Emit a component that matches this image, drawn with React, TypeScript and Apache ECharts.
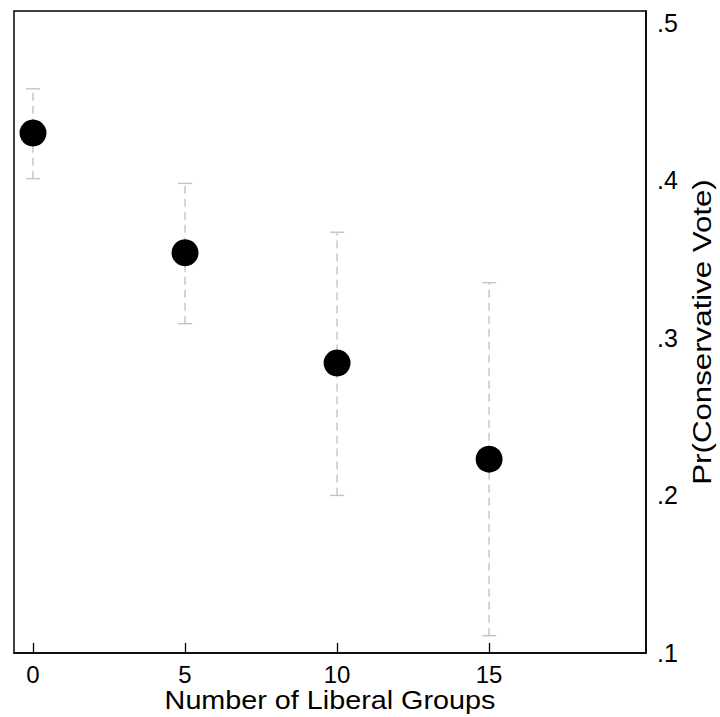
import React, { useEffect, useRef } from "react";
import * as echarts from "echarts";

const groups = [0, 5, 10, 15];
const prob = [0.43, 0.354, 0.284, 0.223];
const ciLow = [0.401, 0.309, 0.2, 0.111];
const ciHigh = [0.458, 0.398, 0.367, 0.335];
const xTicks = [0, 5, 10, 15];
const yTicks = [0.1, 0.2, 0.3, 0.4, 0.5];
const xTitle = "Number of Liberal Groups";
const yTitle = "Pr(Conservative Vote)";

const FONT = "Liberation Sans";

export default function App() {
  const ref = useRef<HTMLDivElement>(null);
  useEffect(() => {
    if (!ref.current) return;
    const chart = echarts.init(ref.current, null, { renderer: "svg" });
    const ciData = groups.map((g, i) => [g, ciLow[i], ciHigh[i]]);
    const ptData = groups.map((g, i) => [g, prob[i]]);
    chart.setOption({
      animation: false,
      backgroundColor: "#fff",
      grid: {
        left: 14,
        right: 74,
        top: 11,
        bottom: 64,
        show: true,
        borderColor: "#000",
        borderWidth: 1.5,
        backgroundColor: "transparent",
      },
      graphic: [
        {
          type: "text",
          x: 330,
          y: 701,
          scaleX: 1.15,
          style: {
            text: xTitle,
            font: `25px "${FONT}"`,
            fill: "#000",
            align: "center",
            verticalAlign: "middle",
          },
        },
        {
          type: "text",
          x: 702,
          y: 332,
          rotation: Math.PI / 2,
          scaleX: 1.25,
          style: {
            text: yTitle,
            font: `25px "${FONT}"`,
            fill: "#000",
            align: "center",
            verticalAlign: "middle",
          },
        },
      ],
      xAxis: {
        type: "value",
        min: -0.625,
        max: 20.16,
        axisLine: { show: true, onZero: false, lineStyle: { color: "#000", width: 1.5 } },
        axisTick: {
          show: true,
          inside: true,
          length: 10,
          customValues: xTicks,
          lineStyle: { color: "#000", width: 1.3 },
        },
        axisLabel: {
          customValues: xTicks,
          fontFamily: FONT,
          fontSize: 24,
          color: "#000",
          margin: 9,
        },
        splitLine: { show: false },
      },
      yAxis: {
        type: "value",
        position: "right",
        min: 0.1,
        max: 0.5074,
        axisLine: { show: true, onZero: false, lineStyle: { color: "#000", width: 1.5 } },
        axisTick: { show: false },
        axisLabel: {
          customValues: yTicks,
          fontFamily: FONT,
          fontSize: 25,
          color: "#000",
          margin: 11,
          formatter: (v: number) => v.toFixed(1).replace(/^0/, ""),
        },
        splitLine: { show: false },
      },
      series: [
        {
          type: "custom",
          data: ciData,
          renderItem: (params: any, api: any) => {
            const x = api.value(0);
            const lo = api.coord([x, api.value(1)]);
            const hi = api.coord([x, api.value(2)]);
            const half = 7;
            const style = { stroke: "#c4c4c4", lineWidth: 1.4 };
            return {
              type: "group",
              children: [
                {
                  type: "line",
                  shape: { x1: lo[0], y1: lo[1], x2: hi[0], y2: hi[1] },
                  style: { ...style, lineDash: [8, 5] },
                },
                {
                  type: "line",
                  shape: { x1: lo[0] - half, y1: lo[1], x2: lo[0] + half, y2: lo[1] },
                  style,
                },
                {
                  type: "line",
                  shape: { x1: hi[0] - half, y1: hi[1], x2: hi[0] + half, y2: hi[1] },
                  style,
                },
              ],
            };
          },
          z: 1,
        },
        {
          type: "scatter",
          data: ptData,
          symbol: "circle",
          symbolSize: 27,
          itemStyle: { color: "#000", opacity: 1 },
          z: 2,
        },
      ],
    });
    return () => chart.dispose();
  }, []);
  return <div ref={ref} style={{ width: 720, height: 717, position: "absolute", left: 0, top: 0 }} />;
}
